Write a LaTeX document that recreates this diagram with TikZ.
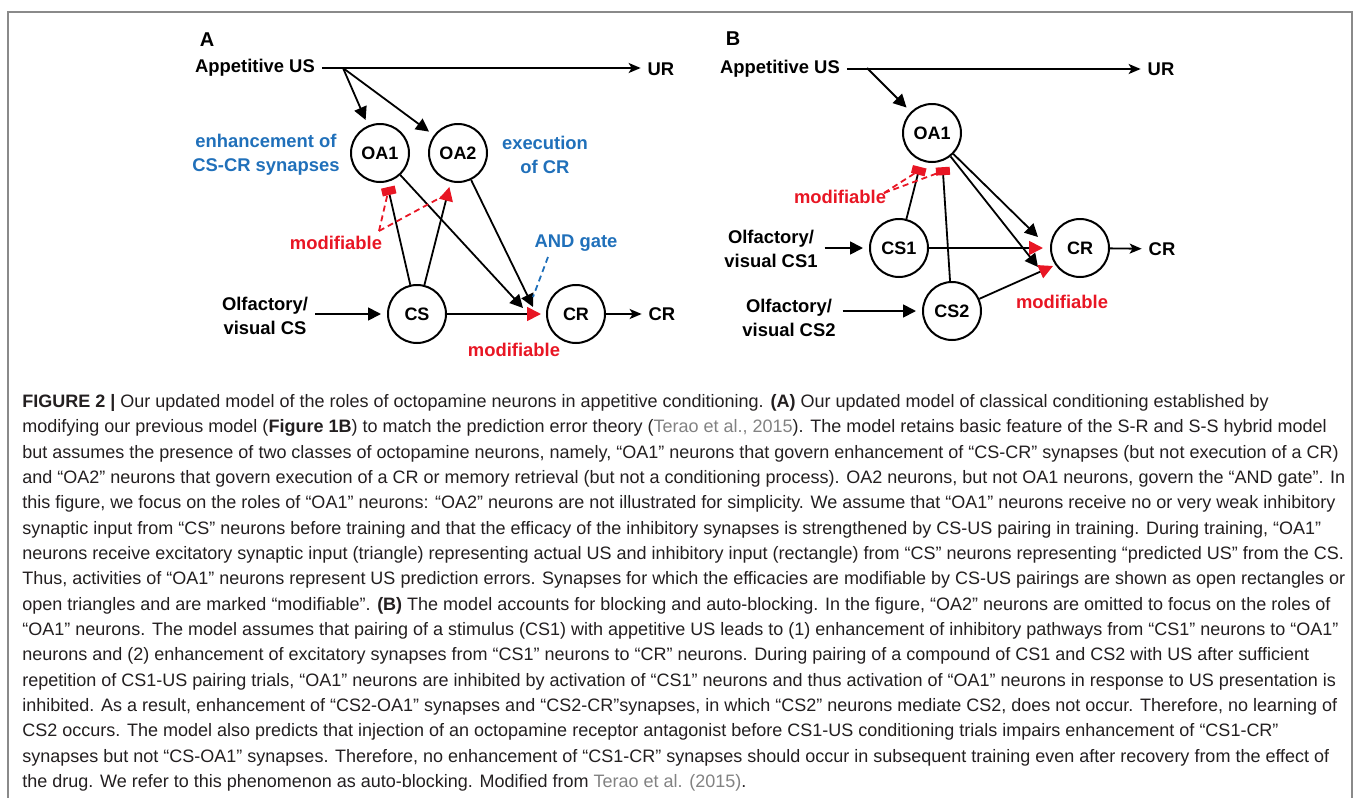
\documentclass[tikz,border=0pt]{standalone}
\usepackage{fontspec}
\setmainfont{Liberation Sans}
\usetikzlibrary{arrows.meta,calc}

\definecolor{modred}{RGB}{232,22,36}
\definecolor{fnblue}{RGB}{32,112,186}
\definecolor{framegray}{RGB}{138,138,138}
\definecolor{captext}{RGB}{35,31,32}
\definecolor{refgray}{RGB}{130,130,130}

\tikzset{
  neuron/.style={circle,draw,line width=1pt,minimum size=29pt,inner sep=0pt,font=\fontsize{9}{11}\selectfont\bfseries},
  lbl/.style={font=\fontsize{9.2}{11.8}\selectfont\bfseries,align=center},
  bluelbl/.style={lbl,text=fnblue},
  redlbl/.style={lbl,text=modred},
  panel/.style={font=\fontsize{10}{12}\selectfont\bfseries},
  syn/.style={line width=0.9pt},
  exc/.style={syn,-{Triangle[length=6.5pt,width=6.5pt]},shorten >=3pt},
  excmod/.style={syn,-{Triangle[length=7pt,width=7pt,color=modred,fill=modred]},shorten >=2.5pt},
  inhmod/.style={syn,-{Rectangle[length=4pt,width=7pt,color=modred,fill=modred]},shorten >=2.5pt},
  outarr/.style={syn,-{Stealth[length=6pt,width=5pt,inset=1.5pt]}},
  moddash/.style={modred,line width=0.9pt,dash pattern=on 3pt off 2pt},
  anddash/.style={fnblue,line width=0.9pt,dash pattern=on 3pt off 2pt},
}

\begin{document}
\begin{tikzpicture}[x=0.5pt,y=-0.5pt]
    \useasboundingbox (0,0) rectangle (1357,798);

    % Frame
    \draw[framegray,line width=1pt] (8,798) -- (8,12) -- (1352,12) -- (1352,798);

    % Panel A: neurons
    \node[panel] (labA) at (207,40) {A};
    \node[lbl] (usA) at (255,68) {Appetitive US};
    \node[lbl] (urA) at (661,69) {UR};
    \coordinate (brA) at (343,68);
    \node[neuron] (OA1) at (380,153) {OA1};
    \node[neuron] (OA2) at (458,153) {OA2};
    \node[neuron] (CS) at (417,314) {CS};
    \node[neuron] (CR) at (576,314) {CR};
    \node[lbl] (crA) at (662,314) {CR};
    \node[lbl] (olfA) at (265,316) {Olfactory/\\visual CS};

    % Panel A: labels
    \node[bluelbl] (enhA) at (266,155) {enhancement of\\CS-CR synapses};
    \node[bluelbl] (exeA) at (545,155) {execution\\of CR};
    \node[bluelbl] (andA) at (576,243) {AND gate};
    \node[redlbl] (modA1) at (336,243) {modifiable};
    \node[redlbl] (modA2) at (514,350) {modifiable};

    % Panel A: connections
    \coordinate (gA1) at (523,308);
    \coordinate (gA2) at (533,307);
    \draw[outarr] (usA.east) -- (usA.east -| urA.west);
    \draw[exc] (brA) -- (OA1);
    \draw[exc] (brA) -- (OA2);
    \draw[exc] (olfA.east |- CS) -- (CS);
    \draw[outarr] (CR) -- (crA);
    \draw[exc,shorten >=0pt] (OA1) -- (gA1);
    \draw[exc,shorten >=0pt] (OA2) -- (gA2);
    \draw[excmod] (CS) -- (CR);
    \draw[inhmod] (CS) -- (OA1);
    \draw[excmod] (CS) -- (OA2);

    % Panel A: dashed pointers
    \coordinate (dA) at (379,231);
    \draw[moddash] (dA) -- ($(OA1)!19pt!(CS)$);
    \draw[moddash] (dA) -- ($(OA2)!21pt!(CS)$);
    \draw[anddash] (548,257) -- ($(gA2)+(0,-10)$);

    % Panel B: neurons
    \node[panel] (labB) at (733,39) {B};
    \node[lbl] (usB) at (780,69) {Appetitive US};
    \node[lbl] (urB) at (1161,69) {UR};
    \coordinate (brB) at (867,68);
    \node[neuron] (OA1b) at (932,133) {OA1};
    \node[neuron] (CS1) at (899,248) {CS1};
    \node[neuron] (CRb) at (1080,248) {CR};
    \node[neuron] (CS2) at (952,311) {CS2};
    \node[lbl] (crB) at (1162,249) {CR};
    \node[lbl] (olfB1) at (771,249) {Olfactory/\\visual CS1};
    \node[lbl] (olfB2) at (789,318) {Olfactory/\\visual CS2};

    % Panel B: labels
    \node[redlbl] (modB1) at (840,197) {modifiable};
    \node[redlbl] (modB2) at (1062,302) {modifiable};

    % Panel B: connections
    \coordinate (gB1) at (1038,237);
    \coordinate (gB2) at (1038,267);
    \coordinate (gB3) at (1053,266);
    \draw[outarr] (usB.east) -- (usB.east -| urB.west);
    \draw[exc] (brB) -- (OA1b);
    \draw[exc] (olfB1.east |- CS1) -- (CS1);
    \draw[exc] (olfB2.east |- CS2) -- (CS2);
    \draw[outarr] (CRb) -- (crB);
    \draw[exc,shorten >=0pt] (OA1b) -- (gB1);
    \draw[exc,shorten >=0pt] (OA1b) -- (gB2);
    \draw[excmod,shorten >=3.5pt] (CS1) -- (CRb);
    \draw[excmod,shorten >=0pt] (CS2) -- (gB3);
    \draw[inhmod,shorten >=3pt] (CS1) -- (OA1b.-111);
    \draw[inhmod,shorten >=3pt] (CS2) -- (OA1b.-70);

    % Panel B: dashed pointers
    \coordinate (dB) at (884,193);
    \draw[moddash] (dB) -- ($(OA1b.-111)!5pt!(CS1)$);
    \draw[moddash] (dB) -- ($(OA1b.-70)!5pt!(CS2)$);

    % Caption
    \node[anchor=north west,inner sep=0pt,align=left,text=captext,
          font=\fontsize{9}{12.67}\selectfont] (cap) at (22,394) {%
\textbf{FIGURE 2 |} Our updated model of the roles of octopamine neurons in appetitive conditioning. \textbf{(A)} Our updated model of classical conditioning established by\\
modifying our previous model (\textbf{Figure 1B}) to match the prediction error theory ({\color{refgray}Terao et al., 2015}). The model retains basic feature of the S-R and S-S hybrid model\\
but assumes the presence of two classes of octopamine neurons, namely, “OA1” neurons that govern enhancement of “CS-CR” synapses (but not execution of a CR)\\
and “OA2” neurons that govern execution of a CR or memory retrieval (but not a conditioning process). OA2 neurons, but not OA1 neurons, govern the “AND gate”. In\\
this figure, we focus on the roles of “OA1” neurons: “OA2” neurons are not illustrated for simplicity. We assume that “OA1” neurons receive no or very weak inhibitory\\
synaptic input from “CS” neurons before training and that the efficacy of the inhibitory synapses is strengthened by CS-US pairing in training. During training, “OA1”\\
neurons receive excitatory synaptic input (triangle) representing actual US and inhibitory input (rectangle) from “CS” neurons representing “predicted US” from the CS.\\
Thus, activities of “OA1” neurons represent US prediction errors. Synapses for which the efficacies are modifiable by CS-US pairings are shown as open rectangles or\\
open triangles and are marked “modifiable”. \textbf{(B)} The model accounts for blocking and auto-blocking. In the figure, “OA2” neurons are omitted to focus on the roles of\\
“OA1” neurons. The model assumes that pairing of a stimulus (CS1) with appetitive US leads to (1) enhancement of inhibitory pathways from “CS1” neurons to “OA1”\\
neurons and (2) enhancement of excitatory synapses from “CS1” neurons to “CR” neurons. During pairing of a compound of CS1 and CS2 with US after sufficient\\
repetition of CS1-US pairing trials, “OA1” neurons are inhibited by activation of “CS1” neurons and thus activation of “OA1” neurons in response to US presentation is\\
inhibited. As a result, enhancement of “CS2-OA1” synapses and “CS2-CR”synapses, in which “CS2” neurons mediate CS2, does not occur. Therefore, no learning of\\
CS2 occurs. The model also predicts that injection of an octopamine receptor antagonist before CS1-US conditioning trials impairs enhancement of “CS1-CR”\\
synapses but not “CS-OA1” synapses. Therefore, no enhancement of “CS1-CR” synapses should occur in subsequent training even after recovery from the effect of\\
the drug. We refer to this phenomenon as auto-blocking. Modified from {\color{refgray}Terao et al. (2015)}.};
\end{tikzpicture}
\end{document}
